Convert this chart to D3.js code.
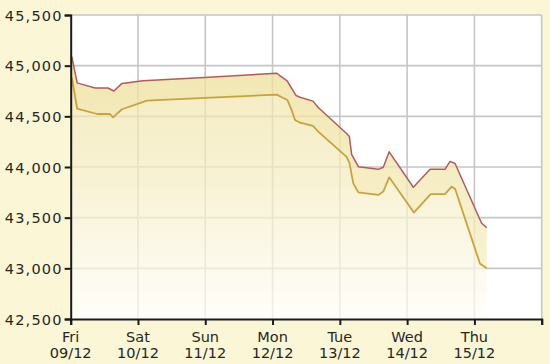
<!DOCTYPE html>
<html>
<head>
<meta charset="utf-8">
<script src="https://cdn.jsdelivr.net/npm/d3@7"></script>
<style>
  html, body { margin: 0; padding: 0; background: #fbf7d6; }
  svg { display: block; }
</style>
</head>
<body>
<script>
// ---- data (hours from Fri 09/12 00:00, price) ----
const sellHours = [0.4, 2.3, 8.7, 13.3, 15.4, 18.3, 25.8, 46.1, 73.5, 74.7, 77.2, 80.4, 81.8, 86.4, 88.2, 98.4, 99.4, 100.2, 102.6, 109.7, 111.5, 113.6, 122.2, 128.2, 133.5, 135.3, 137.1, 146.0, 146.6, 148.4];
const sellValues = [45090, 44830, 44780, 44780, 44750, 44825, 44850, 44880, 44925, 44900, 44850, 44705, 44688, 44650, 44590, 44330, 44300, 44125, 44003, 43977, 43997, 44150, 43800, 43977, 43977, 44055, 44035, 43480, 43445, 43400];
const buyHours = [0.4, 2.3, 9.4, 14.0, 15.1, 18.3, 27.2, 46.1, 73.5, 75.3, 77.3, 78.8, 80.0, 81.8, 86.4, 88.3, 98.4, 99.4, 100.8, 102.6, 109.7, 111.5, 113.6, 122.4, 128.4, 133.5, 135.9, 137.1, 146.0, 148.4];
const buyValues = [44885, 44575, 44523, 44523, 44490, 44570, 44655, 44680, 44714, 44688, 44661, 44562, 44464, 44437, 44405, 44349, 44100, 44043, 43839, 43750, 43724, 43757, 43898, 43550, 43732, 43732, 43806, 43785, 43045, 43000];
const dayNames = ["Fri", "Sat", "Sun", "Mon", "Tue", "Wed", "Thu", ""];
const dayDates = ["09/12", "10/12", "11/12", "12/12", "13/12", "14/12", "15/12", ""];
const dayTicks = [0, 24, 48, 72, 96, 120, 144, 168];
const yTicks = [42500, 43000, 43500, 44000, 44500, 45000, 45500];

const W = 550, H = 364;
const pL = 70.7, pR = 541.7, pT = 15, pB = 319;

const svg = d3.select("body").append("svg").attr("width", W).attr("height", H);
svg.append("rect").attr("width", W).attr("height", H).attr("fill", "#fbf7d6");

const x = d3.scaleLinear().domain([0, 168]).range([pL, pR]);
const y = d3.scaleLinear().domain([42500, 45500]).range([pB, pT]);

// plot background
svg.append("rect").attr("x", pL).attr("y", pT).attr("width", pR - pL).attr("height", pB - pT).attr("fill", "#ffffff");

// gridlines
const grid = svg.append("g").attr("stroke", "#c6c6c6").attr("stroke-width", 1.6);
dayTicks.slice(1).forEach(t => grid.append("line").attr("x1", x(t)).attr("x2", x(t)).attr("y1", pT).attr("y2", pB));
yTicks.slice(1).forEach(t => grid.append("line").attr("x1", pL).attr("x2", pR).attr("y1", y(t)).attr("y2", y(t)));

// gradients
const defs = svg.append("defs");
const g1 = defs.append("linearGradient").attr("id", "band").attr("gradientUnits", "userSpaceOnUse")
  .attr("x1", 0).attr("x2", 0).attr("y1", pT).attr("y2", pB);
g1.append("stop").attr("offset", "0%").attr("stop-color", "#ecdd92");
g1.append("stop").attr("offset", "100%").attr("stop-color", "#f9f2d0");
const g2 = defs.append("linearGradient").attr("id", "under").attr("gradientUnits", "userSpaceOnUse")
  .attr("x1", 0).attr("x2", 0).attr("y1", pT).attr("y2", pB);
g2.append("stop").attr("offset", "0%").attr("stop-color", "#ede099");
g2.append("stop").attr("offset", "55%").attr("stop-color", "#f6edc4");
g2.append("stop").attr("offset", "100%").attr("stop-color", "#fffef8");

const sell = sellHours.map((h, i) => ({h, v: sellValues[i]}));
const buy = buyHours.map((h, i) => ({h, v: buyValues[i]}));

// area under buy line
const areaUnder = d3.area().x(d => x(d.h)).y0(pB).y1(d => y(d.v));
svg.append("path").datum(buy).attr("d", areaUnder).attr("fill", "url(#under)").attr("opacity", 0.72);

// band between lines
const bandPts = sell.map(d => [x(d.h), y(d.v)]).concat(buy.slice().reverse().map(d => [x(d.h), y(d.v)]));
svg.append("path").attr("d", "M" + bandPts.join("L") + "Z").attr("fill", "url(#band)").attr("opacity", 0.78);

// lines
const line = d3.line().x(d => x(d.h)).y(d => y(d.v));
svg.append("path").datum(buy).attr("d", line).attr("fill", "none").attr("stroke", "#c9a33a").attr("stroke-width", 1.8).attr("stroke-linejoin", "round");
svg.append("path").datum(sell).attr("d", line).attr("fill", "none").attr("stroke", "#b35a5e").attr("stroke-width", 1.5).attr("stroke-linejoin", "round");

// axes
const yAxis = d3.axisLeft(y).tickValues(yTicks).tickSize(6).tickFormat(d3.format(","));
const yg = svg.append("g").attr("transform", `translate(${pL},0)`).call(yAxis);
yg.select(".domain").attr("stroke", "#1a1a1a").attr("stroke-width", 2);
yg.selectAll(".tick line").attr("stroke", "#1a1a1a").attr("stroke-width", 2);
yg.selectAll(".tick text").attr("font-family", "DejaVu Sans, sans-serif").attr("font-size", 14.5)
  .attr("fill", "#262626").attr("x", -8).attr("letter-spacing", 1.2).attr("dy", "0.36em");

const xAxis = d3.axisBottom(x).tickValues(dayTicks).tickSize(6).tickFormat("");
const xg = svg.append("g").attr("transform", `translate(0,${pB})`).call(xAxis);
xg.select(".domain").attr("stroke", "#1a1a1a").attr("stroke-width", 2);
xg.selectAll(".tick line").attr("stroke", "#1a1a1a").attr("stroke-width", 2);

const lab = svg.append("g").attr("font-family", "DejaVu Sans, sans-serif").attr("font-size", 14.5)
  .attr("fill", "#262626").attr("text-anchor", "middle");
dayTicks.forEach((t, i) => {
  if (!dayNames[i]) return;
  lab.append("text").attr("x", x(t)).attr("y", 342).text(dayNames[i]);
  lab.append("text").attr("x", x(t)).attr("y", 358).text(dayDates[i]);
});
</script>
</body>
</html>
